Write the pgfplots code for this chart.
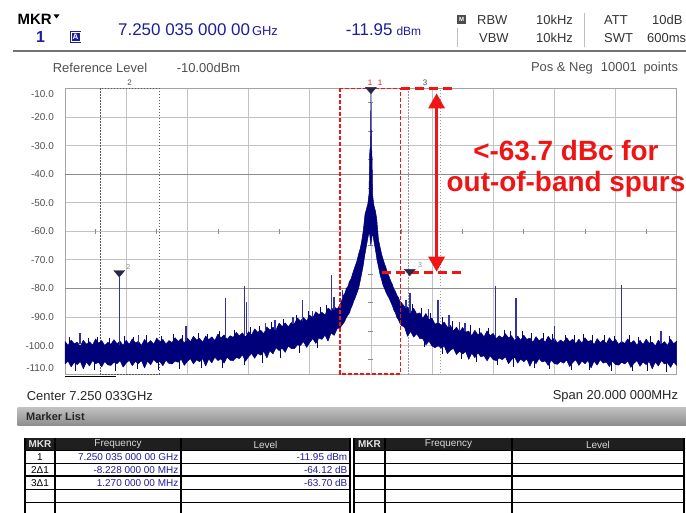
\documentclass[border=0pt]{standalone}
\usepackage{fontspec}
\setmainfont{Liberation Sans}
\usepackage{pgfplots}
\pgfplotsset{compat=1.18}
\usetikzlibrary{arrows.meta}
\definecolor{trace}{RGB}{0,0,122}
\definecolor{spike}{RGB}{50,50,165}
\definecolor{mblue}{RGB}{30,30,155}
\definecolor{annot}{RGB}{240,20,20}
\definecolor{txtgray}{RGB}{80,80,80}
\definecolor{gridgray}{RGB}{195,195,195}
\definecolor{griddark}{RGB}{140,140,140}
\definecolor{mkrcol}{RGB}{40,40,70}
\newcommand{\fs}[1]{\fontsize{#1}{#1}\selectfont}
\pgfdeclareplotmark{mkrtri}{%
  \pgfpathmoveto{\pgfpoint{0bp}{0bp}}%
  \pgfpathlineto{\pgfpoint{-5.5bp}{6.5bp}}%
  \pgfpathlineto{\pgfpoint{5.5bp}{6.5bp}}%
  \pgfpathclose
  \pgfusepathqfillstroke}
\begin{document}
\begin{tikzpicture}
\useasboundingbox (0,0) rectangle (686bp,513bp);
\fill[white] (0,0) rectangle (686bp,513bp);
\begin{axis}[
  at={(65bp,139bp)}, anchor=south west,
  scale only axis, width=611.7bp, height=285.7bp,
  xmin=-10, xmax=10, ymin=-110, ymax=-10,
  clip=false,
  xtick={-10,-8,...,10}, xticklabels={},
  ytick={-110,-100,...,-10},
  yticklabels={{\raisebox{6bp}[0pt][0pt]{-110.0}},{\raisebox{0bp}[0pt][0pt]{-100.0}},{\raisebox{0bp}[0pt][0pt]{-90.0}},{\raisebox{0bp}[0pt][0pt]{-80.0}},{\raisebox{0bp}[0pt][0pt]{-70.0}},{\raisebox{0bp}[0pt][0pt]{-60.0}},{\raisebox{0bp}[0pt][0pt]{-50.0}},{\raisebox{0bp}[0pt][0pt]{-40.0}},{\raisebox{0bp}[0pt][0pt]{-30.0}},{\raisebox{0bp}[0pt][0pt]{-20.0}},{\raisebox{-6bp}[0pt][0pt]{-10.0}}},
  yticklabel style={font=\fs{10}, text=txtgray, inner sep=0pt, anchor=east, xshift=-11bp, yshift=-3.6bp},
  major tick length=0pt,
  grid=major, major grid style={draw=gridgray, line width=0.7bp},
  axis line style={draw=griddark!80, line width=0.7bp},
  unbounded coords=jump,
]
\draw[griddark, line width=0.7bp] (axis cs:-10,-40) -- (axis cs:10,-40);
\draw[griddark, line width=0.7bp] (axis cs:-10,-80) -- (axis cs:10,-80);
\pgfplotsinvokeforeach{-9,-7,-5,-3,-1,1,3,5,7,9}{\draw[griddark, line width=0.6bp] (axis cs:#1,-60) ++(0pt,-2.5bp) -- ++(0pt,5bp);}
\pgfplotsinvokeforeach{-15,-25,-35,-45,-55,-65,-75,-85,-95,-105}{\draw[griddark, line width=0.6bp] (axis cs:0,#1) ++(-2.5bp,0pt) -- ++(5bp,0pt);}
\draw[black!65, line width=0.8bp, dash pattern=on 1.5bp off 1.5bp] (axis cs:-8.856,-10) rectangle (axis cs:-6.917,-110);
\draw[black!40, line width=0.8bp, dash pattern=on 1.5bp off 1.5bp] (axis cs:1.225,-10) rectangle (axis cs:2.261,-110);
% noise band and carrier
\addplot[fill=trace, draw=trace, line width=0.5bp, line join=round, mark=none] coordinates {
(-10.0,-98.6) (-9.9,-100.0) (-9.8,-98.1) (-9.7,-99.4) (-9.6,-98.9) (-9.5,-100.3) (-9.4,-98.2) (-9.3,-99.6) (-9.2,-98.7) (-9.1,-99.9)
(-9.0,-97.7) (-8.9,-99.2) (-8.8,-98.3) (-8.7,-100.0) (-8.6,-98.9) (-8.5,-99.6) (-8.4,-98.0) (-8.3,-99.4) (-8.2,-98.5) (-8.1,-100.0)
(-8.0,-98.2) (-7.9,-99.6) (-7.8,-97.7) (-7.7,-99.1) (-7.6,-98.6) (-7.5,-100.0) (-7.4,-97.9) (-7.3,-99.3) (-7.2,-98.3) (-7.1,-99.6)
(-7.0,-97.4) (-6.9,-98.8) (-6.8,-97.9) (-6.7,-99.5) (-6.6,-98.3) (-6.5,-99.0) (-6.4,-97.3) (-6.3,-98.6) (-6.2,-97.6) (-6.1,-99.2)
(-6.0,-97.4) (-5.9,-98.7) (-5.8,-96.8) (-5.7,-98.1) (-5.6,-97.5) (-5.5,-98.9) (-5.4,-96.7) (-5.3,-98.0) (-5.2,-97.0) (-5.1,-98.3)
(-5.0,-96.0) (-4.9,-97.4) (-4.8,-96.3) (-4.7,-97.9) (-4.6,-96.6) (-4.5,-97.2) (-4.4,-95.4) (-4.3,-96.7) (-4.2,-95.6) (-4.1,-97.1)
(-4.0,-95.2) (-3.9,-96.4) (-3.8,-94.2) (-3.7,-95.4) (-3.6,-94.7) (-3.5,-95.9) (-3.4,-93.5) (-3.3,-94.7) (-3.2,-93.6) (-3.1,-94.6)
(-3.0,-92.2) (-2.9,-93.4) (-2.8,-92.1) (-2.7,-93.5) (-2.6,-92.0) (-2.5,-92.4) (-2.4,-90.4) (-2.3,-91.5) (-2.2,-90.2) (-2.1,-91.5)
(-2.0,-89.4) (-1.9,-90.4) (-1.8,-88.2) (-1.7,-89.2) (-1.6,-88.4) (-1.5,-89.4) (-1.4,-86.9) (-1.3,-87.8) (-1.2,-86.5) (-1.1,-87.3)
(-1.0,-85.6) (-0.95,-84.2) (-0.9,-82.5) (-0.85,-81.8) (-0.8,-80.0) (-0.75,-79.4) (-0.7,-77.6) (-0.65,-76.8) (-0.6,-75.0) (-0.55,-73.4)
(-0.5,-71.8) (-0.45,-70.2) (-0.4,-68.0) (-0.35,-66.2) (-0.3,-63.5) (-0.25,-60.0) (-0.19,-54.0) (-0.15,-52.5) (-0.1,-50.5) (-0.06,-47.0)
(-0.045,-38.0) (-0.035,-32.0) (-0.015,-30.5) (0.002,-11.95) (0.018,-30.5) (0.035,-32.5) (0.045,-38.0) (0.06,-47.5) (0.1,-51.0) (0.15,-53.0)
(0.19,-55.5) (0.25,-63.0) (0.3,-65.5) (0.35,-68.0) (0.4,-69.8) (0.45,-71.5) (0.5,-73.0) (0.55,-74.8) (0.6,-76.0) (0.65,-77.5)
(0.7,-78.6) (0.75,-80.2) (0.8,-81.0) (0.85,-82.4) (0.9,-83.2) (0.95,-84.6) (1.0,-85.0)
(1.1,-86.4) (1.2,-86.5) (1.3,-88.5) (1.4,-87.0) (1.5,-89.0) (1.6,-88.6) (1.7,-90.5) (1.8,-88.8) (1.9,-90.9) (2.0,-90.5)
(2.1,-92.6) (2.2,-91.9) (2.3,-93.0) (2.4,-91.8) (2.5,-93.6) (2.6,-93.0) (2.7,-94.9) (2.8,-93.6) (2.9,-95.3) (3.0,-93.7)
(3.1,-95.3) (3.2,-95.0) (3.3,-96.6) (3.4,-94.7) (3.5,-96.3) (3.6,-95.5) (3.7,-97.0) (3.8,-94.9) (3.9,-96.6) (4.0,-95.8)
(4.1,-97.6) (4.2,-96.6) (4.3,-97.4) (4.4,-95.9) (4.5,-97.4) (4.6,-96.6) (4.7,-98.3) (4.8,-96.7) (4.9,-98.2) (5.0,-96.4)
(5.1,-97.9) (5.2,-97.4) (5.3,-98.9) (5.4,-96.9) (5.5,-98.4) (5.6,-97.5) (5.7,-98.9) (5.8,-96.8) (5.9,-98.3) (6.0,-97.5)
(6.1,-99.2) (6.2,-98.1) (6.3,-98.9) (6.4,-97.3) (6.5,-98.7) (6.6,-97.8) (6.7,-99.4) (6.8,-97.8) (6.9,-99.2) (7.0,-97.3)
(7.1,-98.7) (7.2,-98.2) (7.3,-99.7) (7.4,-97.6) (7.5,-99.0) (7.6,-98.1) (7.7,-99.4) (7.8,-97.3) (7.9,-98.8) (8.0,-97.9)
(8.1,-99.6) (8.2,-98.6) (8.3,-99.3) (8.4,-97.7) (8.5,-99.2) (8.6,-98.3) (8.7,-99.9) (8.8,-98.2) (8.9,-99.7) (9.0,-97.8)
(9.1,-99.2) (9.2,-98.8) (9.3,-100.2) (9.4,-98.1) (9.5,-99.6) (9.6,-98.7) (9.7,-100.0) (9.8,-97.8) (9.9,-99.4) (10.0,-98.5)
(10.0,-107.0) (9.9,-105.8) (9.8,-107.7) (9.7,-106.1) (9.6,-106.5) (9.5,-105.3) (9.4,-107.2) (9.3,-105.8) (9.2,-108.2) (9.1,-105.6)
(9.0,-106.7) (8.9,-105.8) (8.8,-107.3) (8.7,-105.3) (8.6,-106.3) (8.5,-107.7) (8.4,-105.4) (8.3,-106.5) (8.2,-105.9) (8.1,-106.9)
(8.0,-106.7) (7.9,-105.5) (7.8,-107.4) (7.7,-105.8) (7.6,-106.2) (7.5,-105.0) (7.4,-106.9) (7.3,-105.5) (7.2,-107.9) (7.1,-105.3)
(7.0,-106.4) (6.9,-105.5) (6.8,-107.0) (6.7,-105.0) (6.6,-106.0) (6.5,-107.4) (6.4,-105.1) (6.3,-106.2) (6.2,-105.6) (6.1,-106.6)
(6.0,-106.4) (5.9,-105.2) (5.8,-107.0) (5.7,-105.4) (5.6,-105.8) (5.5,-104.6) (5.4,-106.4) (5.3,-105.0) (5.2,-107.3) (5.1,-104.7)
(5.0,-105.7) (4.9,-104.8) (4.8,-106.2) (4.7,-104.1) (4.6,-105.0) (4.5,-106.4) (4.4,-104.0) (4.3,-105.0) (4.2,-104.4) (4.1,-105.3)
(4.0,-105.0) (3.9,-103.6) (3.8,-105.4) (3.7,-103.6) (3.6,-104.0) (3.5,-102.6) (3.4,-104.3) (3.3,-102.7) (3.2,-104.9) (3.1,-102.1)
(3.0,-103.0) (2.9,-102.0) (2.8,-103.2) (2.7,-101.0) (2.6,-101.7) (2.5,-102.9) (2.4,-100.2) (2.3,-101.0) (2.2,-100.1) (2.1,-100.8)
(2.0,-100.2) (1.9,-98.5) (1.8,-99.8) (1.7,-97.7) (1.6,-97.6) (1.5,-95.9) (1.4,-97.1) (1.3,-95.1) (1.2,-96.8) (1.1,-93.6)
(1.0,-93.0) (0.95,-92.2) (0.9,-91.0) (0.85,-90.2) (0.8,-88.5) (0.75,-87.6) (0.7,-86.0) (0.65,-84.8) (0.6,-83.5) (0.55,-82.6)
(0.5,-81.5) (0.45,-80.2) (0.4,-79.0) (0.35,-77.0) (0.3,-75.2) (0.25,-72.5) (0.2,-70.0) (0.15,-66.5) (0.1,-63.5) (0.05,-60.5)
(0.0,-65.0) (-0.05,-60.0) (-0.1,-62.5) (-0.15,-65.5) (-0.2,-68.5) (-0.25,-72.0) (-0.3,-74.8) (-0.35,-77.5) (-0.4,-80.0) (-0.45,-81.5)
(-0.5,-83.0) (-0.55,-84.2) (-0.6,-85.8) (-0.65,-87.0) (-0.7,-88.6) (-0.75,-89.4) (-0.8,-90.2) (-0.85,-91.5) (-0.9,-92.3) (-0.95,-93.0) (-1.0,-93.8)
(-1.1,-94.1) (-1.2,-96.5) (-1.3,-95.6) (-1.4,-98.5) (-1.5,-96.4) (-1.6,-97.9) (-1.7,-97.4) (-1.8,-99.3) (-1.9,-97.6) (-2.0,-99.0)
(-2.1,-100.7) (-2.2,-98.6) (-2.3,-100.0) (-2.4,-99.8) (-2.5,-101.1) (-2.6,-101.1) (-2.7,-100.2) (-2.8,-102.4) (-2.9,-101.0) (-3.0,-101.8)
(-3.1,-100.8) (-3.2,-103.0) (-3.3,-101.8) (-3.4,-104.4) (-3.5,-102.1) (-3.6,-103.4) (-3.7,-102.8) (-3.8,-104.5) (-3.9,-102.8) (-4.0,-104.0)
(-4.1,-105.5) (-4.2,-103.3) (-4.3,-104.6) (-4.4,-104.2) (-4.5,-105.3) (-4.6,-105.2) (-4.7,-104.1) (-4.8,-106.2) (-4.9,-104.7) (-5.0,-105.3)
(-5.1,-104.1) (-5.2,-106.1) (-5.3,-104.7) (-5.4,-107.2) (-5.5,-104.6) (-5.6,-105.7) (-5.7,-105.0) (-5.8,-106.5) (-5.9,-104.6) (-6.0,-105.6)
(-6.1,-107.0) (-6.2,-104.8) (-6.3,-105.9) (-6.4,-105.5) (-6.5,-106.5) (-6.6,-106.3) (-6.7,-105.2) (-6.8,-107.1) (-6.9,-105.6) (-7.0,-106.1)
(-7.1,-104.9) (-7.2,-106.8) (-7.3,-105.5) (-7.4,-107.9) (-7.5,-105.3) (-7.6,-106.4) (-7.7,-105.6) (-7.8,-107.1) (-7.9,-105.2) (-8.0,-106.2)
(-8.1,-107.6) (-8.2,-105.3) (-8.3,-106.4) (-8.4,-105.9) (-8.5,-107.0) (-8.6,-106.8) (-8.7,-105.6) (-8.8,-107.5) (-8.9,-105.9) (-9.0,-106.4)
(-9.1,-105.3) (-9.2,-107.2) (-9.3,-105.8) (-9.4,-108.2) (-9.5,-105.6) (-9.6,-106.7) (-9.7,-106.0) (-9.8,-107.5) (-9.9,-105.5) (-10.0,-106.5)
(-10.0,-98.6)
};
% fine noise texture: short peaks and dips of the trace
\addplot[trace, line width=0.7bp, mark=none, forget plot] coordinates {
(-9.85,-100) (-9.85,-97.0) (-9.85,nan) (-9.25,-100) (-9.25,-97.4) (-9.25,nan) (-8.95,-100) (-8.95,-96.9) (-8.95,nan)
(-8.55,-100) (-8.55,-97.3) (-8.55,nan) (-8.05,-99.8) (-8.05,-96.6) (-8.05,nan) (-7.75,-99.8) (-7.75,-97.1) (-7.75,nan)
(-7.35,-99.8) (-7.35,-96.5) (-7.35,nan) (-6.85,-99.6) (-6.85,-96.8) (-6.85,nan) (-6.45,-99.3) (-6.45,-96.0) (-6.45,nan)
(-6.15,-99.1) (-6.15,-96.4) (-6.15,nan) (-5.65,-98.8) (-5.65,-95.6) (-5.65,nan) (-5.35,-98.6) (-5.35,-95.9) (-5.35,nan)
(-4.95,-98.2) (-4.95,-94.9) (-4.95,nan) (-4.45,-97.5) (-4.45,-94.6) (-4.45,nan) (-3.95,-96.7) (-3.95,-93.4) (-3.95,nan)
(-3.65,-96.0) (-3.65,-93.1) (-3.65,nan) (-3.25,-95.1) (-3.25,-91.8) (-3.25,nan) (-2.85,-94.0) (-2.85,-90.9) (-2.85,nan)
(-2.45,-92.6) (-2.45,-89.5) (-2.45,nan) (-2.05,-91.2) (-2.05,-88.1) (-2.05,nan) (-1.65,-89.7) (-1.65,-86.4) (-1.65,nan)
(-1.45,-89.0) (-1.45,-85.9) (-1.45,nan)
(1.35,-88.6) (1.35,-85.6) (1.35,nan) (1.65,-90.3) (1.65,-87.0) (1.65,nan) (1.95,-91.9) (1.95,-88.7) (1.95,nan)
(2.35,-93.6) (2.35,-90.1) (2.35,nan) (2.65,-94.7) (2.65,-91.6) (2.65,nan) (3.25,-96.3) (3.25,-93.0) (3.25,nan)
(3.55,-96.9) (3.55,-93.8) (3.55,nan) (3.85,-97.3) (3.85,-94.0) (3.85,nan) (4.35,-97.8) (4.35,-94.6) (4.35,nan)
(4.55,-98.0) (4.55,-94.9) (4.55,nan) (4.95,-98.4) (4.95,-95.1) (4.95,nan) (5.25,-98.7) (5.25,-95.6) (5.25,nan)
(5.65,-98.9) (5.65,-95.7) (5.65,nan) (5.95,-99.1) (5.95,-96.0) (5.95,nan) (6.35,-99.3) (6.35,-96.2) (6.35,nan)
(6.65,-99.3) (6.65,-96.4) (6.65,nan) (6.95,-99.4) (6.95,-96.1) (6.95,nan) (7.25,-99.4) (7.25,-96.5) (7.25,nan)
(7.65,-99.5) (7.65,-96.3) (7.65,nan) (7.95,-99.6) (7.95,-96.7) (7.95,nan) (8.45,-99.7) (8.45,-96.5) (8.45,nan)
(8.75,-99.8) (8.75,-96.9) (8.75,nan) (9.15,-99.9) (9.15,-96.6) (9.15,nan) (9.45,-100) (9.45,-97.0) (9.45,nan)
(9.75,-100) (9.75,-96.8) (9.75,nan)
(-9.65,-105.2) (-9.65,-109.0) (-9.65,nan) (-9.05,-105.1) (-9.05,-108.6) (-9.05,nan) (-8.35,-105.0) (-8.35,-108.8) (-8.35,nan)
(-7.65,-104.9) (-7.65,-108.4) (-7.65,nan) (-6.95,-104.8) (-6.95,-108.6) (-6.95,nan) (-6.25,-104.5) (-6.25,-108.3) (-6.25,nan)
(-5.55,-104.2) (-5.55,-108.0) (-5.55,nan) (-4.85,-103.8) (-4.85,-107.8) (-4.85,nan) (-4.15,-103.0) (-4.15,-107.0) (-4.15,nan)
(-3.55,-101.8) (-3.55,-106.2) (-3.55,nan) (-2.95,-100.4) (-2.95,-104.3) (-2.95,nan) (-2.35,-98.8) (-2.35,-102.5) (-2.35,nan)
(-1.75,-97.0) (-1.75,-101.0) (-1.75,nan) (1.75,-97.0) (1.75,-100.5) (1.75,nan) (2.35,-99.8) (2.35,-103.0) (2.35,nan)
(2.95,-101.4) (2.95,-104.8) (2.95,nan) (3.45,-102.4) (3.45,-105.8) (3.45,nan) (4.15,-103.4) (4.15,-107.0) (4.15,nan)
(4.65,-103.8) (4.65,-107.6) (4.65,nan) (5.35,-104.4) (5.35,-108.0) (5.35,nan) (5.85,-104.6) (5.85,-108.3) (5.85,nan)
(6.55,-104.8) (6.55,-108.5) (6.55,nan) (7.15,-104.9) (7.15,-108.6) (7.15,nan) (7.85,-105.0) (7.85,-108.8) (7.85,nan)
(8.55,-105.1) (8.55,-108.9) (8.55,nan) (9.05,-105.2) (9.05,-109.0) (9.05,nan) (9.65,-105.3) (9.65,-109.2) (9.65,nan)
};
% spurs
\addplot[spike, line width=1.4bp, mark=none, forget plot] coordinates {
(-9.51,-99.5) (-9.51,-95.5) (-9.51,nan)
(-8.226,-100.0) (-8.226,-76.07) (-8.226,nan)
(-7.6,-99.0) (-7.6,-96.5) (-7.6,nan)
(-6.04,-98.5) (-6.04,-93.3) (-6.04,nan)
(-4.75,-97.5) (-4.75,-83.5) (-4.75,nan)
(-4.14,-96.5) (-4.14,-79.2) (-4.14,nan)
(-4.07,-96.0) (-4.07,-84.7) (-4.07,nan)
(-3.45,-95.0) (-3.45,-92.0) (-3.45,nan)
(-3.13,-94.5) (-3.13,-91.1) (-3.13,nan)
(-2.54,-92.5) (-2.54,-90.0) (-2.54,nan)
(-2.23,-91.5) (-2.23,-84.1) (-2.23,nan)
(-1.91,-90.0) (-1.91,-87.8) (-1.91,nan)
(-1.28,-88.0) (-1.28,-75.3) (-1.28,nan)
(-1.20,-87.5) (-1.20,-83.0) (-1.20,nan)
(-0.92,-83.0) (-0.92,-80.6) (-0.92,nan)
(1.15,-87.0) (1.15,-84.1) (1.15,nan)
(1.28,-88.5) (1.28,-81.8) (1.28,nan)
(1.88,-90.5) (1.88,-87.4) (1.88,nan)
(2.19,-92.0) (2.19,-84.1) (2.19,nan)
(2.56,-93.5) (2.56,-89.4) (2.56,nan)
(2.89,-95.0) (2.89,-91.7) (2.89,nan)
(3.08,-95.0) (3.08,-92.0) (3.08,nan)
(4.08,-97.0) (4.08,-79.2) (4.08,nan)
(4.74,-97.5) (4.74,-83.5) (4.74,nan)
(6.00,-98.5) (6.00,-93.2) (6.00,nan)
(8.20,-99.0) (8.20,-78.9) (8.20,nan)
(9.48,-99.5) (9.48,-94.8) (9.48,nan)
};
% markers
\addplot[only marks, mark=mkrtri, mark options={fill=mkrcol, draw=mkrcol, line width=0.3bp}] coordinates {(0.002,-11.95) (-8.226,-76.07) (1.272,-75.65)};
% red annotations
\draw[annot, line width=1.2bp, dash pattern=on 4bp off 2bp] (axis cs:-1.009,-10) rectangle (axis cs:0.976,-110);
\draw[annot, line width=2.6bp, dash pattern=on 9bp off 5bp] (axis cs:0.976,-10) -- (axis cs:2.68,-10);
\draw[annot, line width=2.6bp, dash pattern=on 9bp off 5bp] (axis cs:0.355,-74.4) -- (axis cs:3.08,-74.4);
\draw[annot, line width=3bp, {Triangle[width=16bp,length=15bp]}-{Triangle[width=16bp,length=15bp]}] (axis cs:2.15,-11.75) -- (axis cs:2.15,-74.2);
\end{axis}
\begin{scope}[shift={(0bp,513bp)}, x=1bp, y=-1bp]
% header
\node[anchor=west,inner sep=0,font=\fs{15}\bfseries] at (17.5,19) {MKR};
\fill (53.5,14.5) -- (59.5,14.5) -- (56.5,18.5) -- cycle;
\node[inner sep=0,font=\fs{16}\bfseries,text=mblue] at (40.5,37.5) {1};
\fill[mblue] (70,31) rectangle (81,43);
\draw[white, line width=0.6bp] (71.2,32.2) rectangle (79.8,41.8);
\node[inner sep=0,font=\fs{8}\bfseries,text=white] at (75.5,37) {A};
\node[anchor=west,inner sep=0,text=mblue,font=\fs{17}] at (118,30) {7.250 035 000 00\hspace{2bp}{\fs{13}GHz}};
\node[anchor=west,inner sep=0,text=mblue,font=\fs{17}] at (345.6,30) {-11.95\hspace{4bp}{\fs{12}dBm}};
\fill[black!70] (457,15) rectangle (466,24);
\node[inner sep=0,font=\fs{6}\bfseries,text=white] at (461.5,19.5) {M};
\draw[gray!50] (457,28) -- (457,47);
\draw[gray!50] (584,13) -- (584,47);
\node[anchor=west,inner sep=0,font=\fs{13},text=black!80] at (477,20) {RBW};
\node[anchor=west,inner sep=0,font=\fs{13},text=black!80] at (479,38) {VBW};
\node[anchor=west,inner sep=0,font=\fs{13},text=black!80] at (536,20) {10kHz};
\node[anchor=west,inner sep=0,font=\fs{13},text=black!80] at (536,38) {10kHz};
\node[anchor=west,inner sep=0,font=\fs{13},text=black!80] at (604,20) {ATT};
\node[anchor=west,inner sep=0,font=\fs{13},text=black!80] at (652,20) {10dB};
\node[anchor=west,inner sep=0,font=\fs{13},text=black!80] at (604,38) {SWT};
\node[anchor=west,inner sep=0,font=\fs{13},text=black!80] at (647,38) {600ms};
\draw[black!55, line width=1.5bp] (13,51) -- (686,51);
% sub header
\node[anchor=west,inner sep=0,font=\fs{13},text=txtgray] at (52.7,68.3) {Reference Level};
\node[anchor=west,inner sep=0,font=\fs{13},text=txtgray] at (176.7,68.3) {-10.00dBm};
\node[anchor=east,inner sep=0,font=\fs{13},text=txtgray] at (678.3,68.3) {Pos \& Neg\hspace{8bp}10001\hspace{3bp} points};
% labels on top of the graticule
\node[inner sep=0,font=\fs{8},text=annot] at (370,82.5) {1};
\node[inner sep=0,font=\fs{8},text=annot] at (380,82.5) {1};
\node[inner sep=0,font=\fs{8},text=black!70] at (129.6,83) {2};
\node[inner sep=0,font=\fs{8},text=black!70] at (425,83) {3};
\node[inner sep=0,font=\fs{7},text=black!45] at (128.3,266.7) {2};
\node[inner sep=0,font=\fs{7},text=black!45] at (420,265) {3};
% annotation text
\node[align=center,inner sep=0,text=annot,font=\fontsize{28}{31.6}\selectfont\bfseries] at (566,169) {<-63.7 dBc for\\out-of-band spurs};
% bottom
\draw[black, line width=1.5bp] (65,376.7) -- (116,376.7);
\node[anchor=west,inner sep=0,font=\fs{13},text=black!85] at (26.7,396) {Center 7.250 033GHz};
\node[anchor=east,inner sep=0,font=\fs{13},text=black!85] at (678.3,396) {Span 20.000 000MHz};
\shade[top color=black!25, bottom color=black!45] (17.5,408) rectangle (686,426);
\node[anchor=west,inner sep=0,font=\fs{11}\bfseries,text=black!85] at (26,417) {Marker List};
% tables
\fill[black!88] (25,438.3) rectangle (350,450.7);
\fill[black!88] (354,438.3) rectangle (684,450.7);
\foreach \yy in {450.7,463.3,476,489.3,502.7} {\draw[black, line width=1.1bp] (25,\yy) -- (350,\yy); \draw[black, line width=1.1bp] (354,\yy) -- (684,\yy);}
\foreach \xx in {25,55,181,350,354,385,512,684} {\draw[black, line width=1.1bp] (\xx,438.3) -- (\xx,513);}
\node[inner sep=0,font=\fs{10}\bfseries,text=black!10] at (40,444.5) {MKR};
\node[inner sep=0,font=\fs{10},text=black!15] at (118,444.5) {Frequency};
\node[inner sep=0,font=\fs{10},text=black!15] at (265.5,444.5) {Level};
\node[inner sep=0,font=\fs{10}\bfseries,text=black!10] at (369.5,444.5) {MKR};
\node[inner sep=0,font=\fs{10},text=black!15] at (448.5,444.5) {Frequency};
\node[inner sep=0,font=\fs{10},text=black!15] at (598,444.5) {Level};
\node[inner sep=0,font=\fs{10}] at (40,457) {1};
\node[inner sep=0,font=\fs{10}] at (40,469.7) {2Δ1};
\node[inner sep=0,font=\fs{10}] at (40,482.7) {3Δ1};
\node[anchor=east,inner sep=0,font=\fs{10},text=mblue] at (178.5,457) {7.250 035 000 00 GHz};
\node[anchor=east,inner sep=0,font=\fs{10},text=mblue] at (178.5,469.7) {-8.228 000 00 MHz};
\node[anchor=east,inner sep=0,font=\fs{10},text=mblue] at (178.5,482.7) {1.270 000 00 MHz};
\node[anchor=east,inner sep=0,font=\fs{10},text=mblue] at (347.5,457) {-11.95 dBm};
\node[anchor=east,inner sep=0,font=\fs{10},text=mblue] at (347.5,469.7) {-64.12 dB};
\node[anchor=east,inner sep=0,font=\fs{10},text=mblue] at (347.5,482.7) {-63.70 dB};
\end{scope}
\end{tikzpicture}
\end{document}
